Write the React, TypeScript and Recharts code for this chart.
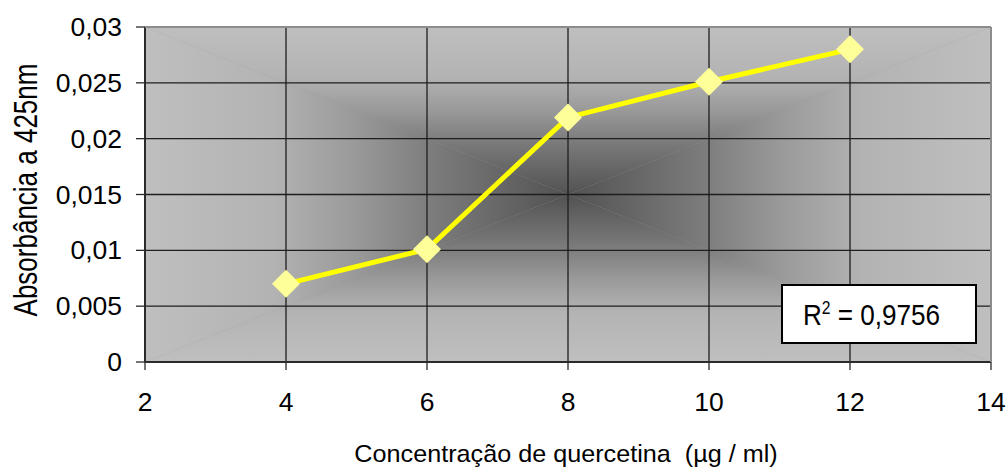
import { CartesianGrid, Line, LineChart, XAxis, YAxis } from 'recharts';

const concentrations = [4, 6, 8, 10, 12];
const absorbances = [0.007, 0.0101, 0.0219, 0.0251, 0.028];
const xTicks = [2, 4, 6, 8, 10, 12, 14];
const yTicks = [0, 0.005, 0.01, 0.015, 0.02, 0.025, 0.03];
const yTickLabels = ['0', '0,005', '0,01', '0,015', '0,02', '0,025', '0,03'];
const rSquared = '0,9756';

const data = concentrations.map((c, i) => ({ c, abs: absorbances[i] }));

// plot box in page pixels
const W = 1008;
const H = 470;
const L = 145;
const T = 27;
const R = 991;
const B = 362;
const FONT = "'Liberation Sans', Arial, sans-serif";

// "from center" fill: same profile on every side so the diagonals blend
const fillStops: [number, string][] = [
  [0, '#bfbfbf'],
  [0.3, '#b3b3b3'],
  [0.5, '#999999'],
  [0.7, '#797979'],
  [1, '#525252'],
];

function Stops() {
  return (
    <>
      {fillStops.map(([o, c]) => (
        <stop key={o} offset={o} stopColor={c} />
      ))}
    </>
  );
}

function PlotBackground() {
  const cx = (L + R) / 2;
  const cy = (T + B) / 2;
  return (
    <svg width={W} height={H} style={{ position: 'absolute', left: 0, top: 0 }}>
      <defs>
        <linearGradient id="gTop" gradientUnits="userSpaceOnUse" x1={cx} y1={T} x2={cx} y2={cy}>
          <Stops />
        </linearGradient>
        <linearGradient id="gBottom" gradientUnits="userSpaceOnUse" x1={cx} y1={B} x2={cx} y2={cy}>
          <Stops />
        </linearGradient>
        <linearGradient id="gLeft" gradientUnits="userSpaceOnUse" x1={L} y1={cy} x2={cx} y2={cy}>
          <Stops />
        </linearGradient>
        <linearGradient id="gRight" gradientUnits="userSpaceOnUse" x1={R} y1={cy} x2={cx} y2={cy}>
          <Stops />
        </linearGradient>
      </defs>
      <rect x={L} y={T} width={R - L} height={B - T} fill="#9a9a9a" />
      <polygon points={`${L},${T} ${R},${T} ${cx},${cy}`} fill="url(#gTop)" />
      <polygon points={`${L},${B} ${R},${B} ${cx},${cy}`} fill="url(#gBottom)" />
      <polygon points={`${L},${T} ${L},${B} ${cx},${cy}`} fill="url(#gLeft)" />
      <polygon points={`${R},${T} ${R},${B} ${cx},${cy}`} fill="url(#gRight)" />
    </svg>
  );
}

function YTick({ x, y, payload }: any) {
  const i = yTicks.indexOf(payload.value);
  return (
    <g transform={`translate(${x},${y})`}>
      <text transform="scale(1.06,1)" textAnchor="end" dy="0.36em" fontSize={25} fill="#000" fontFamily={FONT}>
        {i >= 0 ? yTickLabels[i] : payload.value}
      </text>
    </g>
  );
}

function XTick({ x, y, payload }: any) {
  return (
    <g transform={`translate(${x},${y})`}>
      <text transform="scale(1.06,1)" textAnchor="middle" dy="0.71em" fontSize={25} fill="#000" fontFamily={FONT}>
        {payload.value}
      </text>
    </g>
  );
}

function Diamond({ cx, cy }: any) {
  if (cx == null || cy == null) return null;
  const r = 14;
  return <polygon points={`${cx},${cy - r} ${cx + r},${cy} ${cx},${cy + r} ${cx - r},${cy}`} fill="#ffff99" />;
}

function Overlay() {
  return (
    <svg width={W} height={H} style={{ position: 'absolute', left: 0, top: 0, pointerEvents: 'none' }}>
      <line x1={L} y1={T} x2={R} y2={T} stroke="#8c8c8c" strokeWidth={2} />
      <line x1={R} y1={T} x2={R} y2={B} stroke="#8c8c8c" strokeWidth={2} />
      <text transform="translate(37,190) scale(1.3,1) rotate(-90)" textAnchor="middle" fontSize={26} fill="#000"
        fontFamily={FONT}>
        Absorbância a 425nm
      </text>
      <text transform="translate(566,462) scale(1.05,1)" textAnchor="middle" fontSize={24} fill="#000"
        fontFamily={FONT} style={{ whiteSpace: 'pre' }}>
        {'Concentração de quercetina  (µg / ml)'}
      </text>
      <rect x={782} y={285} width={194} height={58} fill="#fff" stroke="#000" strokeWidth={2} />
      <text transform="translate(803,325) scale(0.87,1)" fontSize={30} fill="#000" fontFamily={FONT}>
        R<tspan fontSize={18} dy={-11}>2</tspan>
        <tspan dy={11}>{` = ${rSquared}`}</tspan>
      </text>
    </svg>
  );
}

export default function App() {
  return (
    <div style={{ position: 'fixed', left: 0, top: 0, width: W, height: H, background: '#fff' }}>
      <PlotBackground />
      <div style={{ position: 'absolute', left: 0, top: 0 }}>
        <LineChart width={W} height={H} data={data} margin={{ top: T, right: W - R, bottom: 0, left: 0 }}>
          <CartesianGrid stroke="#1e1e1e" strokeWidth={1.3} />
          <XAxis
            dataKey="c"
            type="number"
            domain={[2, 14]}
            ticks={xTicks}
            interval={0}
            height={H - B}
            tick={<XTick />}
            tickSize={8}
            tickMargin={23}
            axisLine={{ stroke: '#2a2a2a', strokeWidth: 2 }}
            tickLine={{ stroke: '#2a2a2a', strokeWidth: 1.3 }}
          />
          <YAxis
            type="number"
            domain={[0, 0.03]}
            ticks={yTicks}
            interval={0}
            width={L}
            tick={<YTick />}
            tickSize={9}
            tickMargin={14}
            axisLine={{ stroke: '#2a2a2a', strokeWidth: 2 }}
            tickLine={{ stroke: '#2a2a2a', strokeWidth: 1.3 }}
          />
          <Line
            type="linear"
            dataKey="abs"
            stroke="#ffff00"
            strokeWidth={5}
            dot={<Diamond />}
            activeDot={false}
            isAnimationActive={false}
          />
        </LineChart>
      </div>
      <Overlay />
    </div>
  );
}
